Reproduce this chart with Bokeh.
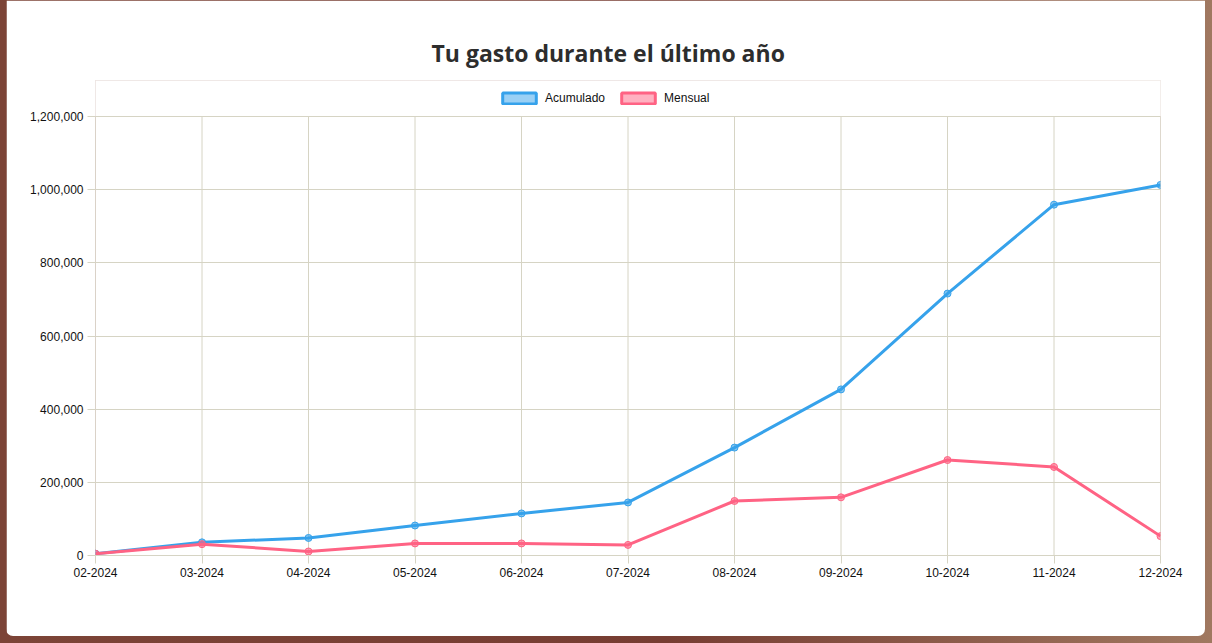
from bokeh.plotting import figure
from bokeh.layouts import column
from bokeh.models import (ColumnDataSource, FixedTicker, NumeralTickFormatter, Legend,
                          LegendItem, Range1d, Title)
from bokeh.embed import file_html
from bokeh.resources import INLINE

# ---- data ----
months = ["02-2024", "03-2024", "04-2024", "05-2024", "06-2024", "07-2024",
          "08-2024", "09-2024", "10-2024", "11-2024", "12-2024"]
acumulado = [5000, 36000, 48000, 82000, 115000, 145000, 295000, 454000, 716000, 959000, 1013000]
mensual = [5000, 31000, 11000, 33000, 33000, 29000, 149000, 159000, 261000, 242000, 53000]
y_ticks = [0, 200000, 400000, 600000, 800000, 1000000, 1200000]

idx = list(range(len(months)))
y_max = y_ticks[-1]
src = ColumnDataSource(dict(x=idx, acu=acumulado, men=mensual,
                            g0=[0] * len(idx), g1=[y_max] * len(idx)))

BLUE = "#36A2EB"
PINK = "#FF6384"
GRID = "#d6d4c4"
FONT = "Liberation Sans"

# frame: 475 px tall, of which the top 36 px hold the legend (above the 1,200,000 line)
FRAME_H = 475
PLOT_H = 439
y_top = y_max * FRAME_H / PLOT_H
p = figure(frame_width=1065, frame_height=FRAME_H, output_backend="svg", toolbar_location=None,
           tools="", x_range=Range1d(0, len(months) - 1), y_range=Range1d(0, y_top),
           margin=(0, 7, 7, 6), outline_line_color=None, outline_line_width=0)
p.min_border_left = 89
p.min_border_right = 45
p.min_border_top = 80
p.min_border_bottom = 81
p.outline_line_alpha = 0
p.background_fill_color = "white"
p.border_fill_color = "white"
p.styles = {"border-radius": "0 0 7px 7px", "overflow": "hidden"}

p.title = Title(text="Tu gasto durante el último año", align="left", offset=336,
                text_font="Open Sans", text_font_size="23px", text_font_style="bold",
                text_color="#2d2d2d", standoff=23)

# axes
p.xaxis.ticker = FixedTicker(ticks=idx)
p.xaxis.major_label_overrides = {i: m for i, m in enumerate(months)}
p.yaxis.ticker = FixedTicker(ticks=y_ticks)
p.yaxis.formatter = NumeralTickFormatter(format="0,0")
for ax in (p.xaxis, p.yaxis):
    ax.axis_line_color = GRID
    ax.major_tick_line_color = GRID
    ax.major_tick_in = 0
    ax.major_tick_out = 8
    ax.minor_tick_line_color = None
    ax.major_label_text_font = FONT
    ax.major_label_text_font_size = "12px"
    ax.major_label_text_color = "#111111"
p.yaxis.major_label_standoff = 4
p.xaxis.major_label_standoff = 4
p.yaxis.axis_line_color = None
p.xgrid.grid_line_color = None
p.ygrid.grid_line_color = GRID
p.ygrid.ticker = FixedTicker(ticks=y_ticks)

# white mask over the legend strip above the top gridline
p.quad(left=[idx[0] - 1], right=[idx[-1] + 1], bottom=[y_max * 1.001], top=[y_top * 1.1],
       fill_color="white", line_color=None)

# vertical grid lines, only up to the top tick
p.segment(x0="x", y0="g0", x1="x", y1="g1", source=src, line_color=GRID, line_width=1)

# lines
p.line("x", "acu", source=src, line_color=BLUE, line_width=3)
p.scatter("x", "acu", source=src, size=7, fill_color=BLUE, fill_alpha=0.6,
          line_color=BLUE, line_width=1)
p.line("x", "men", source=src, line_color=PINK, line_width=3)
p.scatter("x", "men", source=src, size=7, fill_color=PINK, fill_alpha=0.6,
          line_color=PINK, line_width=1)

# legend proxies (drawn outside the visible range)
q1 = p.quad(left=[-5], right=[-4], top=[-5], bottom=[-6],
            fill_color=BLUE, fill_alpha=0.5, line_color=BLUE, line_width=3)
q2 = p.quad(left=[-5], right=[-4], top=[-5], bottom=[-6],
            fill_color=PINK, fill_alpha=0.5, line_color=PINK, line_width=3)
legend = Legend(items=[LegendItem(label="Acumulado", renderers=[q1]),
                       LegendItem(label="Mensual", renderers=[q2])],
                orientation="horizontal", location=(403, FRAME_H - 25),
                glyph_width=42, glyph_height=14, label_text_font=FONT,
                label_text_font_size="12px", label_text_color="#111111",
                label_standoff=5, spacing=12, padding=0, margin=0,
                border_line_color=None, background_fill_alpha=0)
p.add_layout(legend, "center")

page = column(p, styles={"background": "linear-gradient(to right, #7c4437 0%, #773d32 55%, #a07860 100%)"})

open("out.html", "w").write(file_html(page, INLINE))
